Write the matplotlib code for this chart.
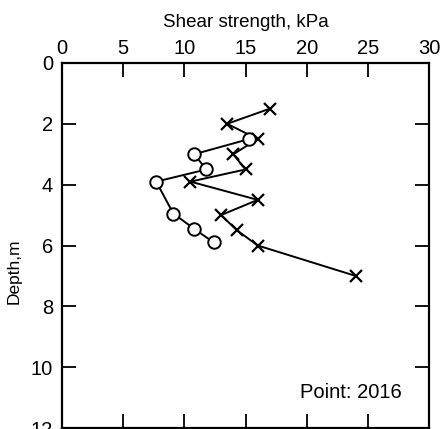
import matplotlib
matplotlib.use("Agg")
import matplotlib.pyplot as plt

# Cross series (shear strength kPa, depth m)
cross_strength = [17.0, 13.5, 16.0, 14.0, 15.0, 10.5, 16.0, 13.0, 14.3, 16.0, 24.0]
cross_depth    = [1.5, 2.0, 2.5, 3.0, 3.5, 3.9, 4.5, 5.0, 5.5, 6.0, 7.0]

# Circle series
circle_strength = [15.3, 10.8, 11.8, 7.7, 9.1, 10.8, 12.4]
circle_depth    = [2.5, 3.0, 3.5, 3.9, 4.95, 5.45, 5.9]

xticks = [0, 5, 10, 15, 20, 25, 30]
yticks = [0, 2, 4, 6, 8, 10, 12]

plt.rcParams['font.family'] = ['Liberation Sans', 'DejaVu Sans']

fig = plt.figure(figsize=(4.41, 4.29), dpi=100)
ax = fig.add_axes([62/441, 1 - 428/429, (429-62)/441, (428-63)/429])

ax.plot(cross_strength, cross_depth, color='black', lw=1.4, marker='x',
        markersize=9, markeredgewidth=1.6)
ax.plot(circle_strength, circle_depth, color='black', lw=1.4, marker='o',
        markersize=9, markerfacecolor='white', markeredgewidth=1.4)

ax.set_xlim(0, 30)
ax.set_ylim(12, 0)
ax.set_xticks(xticks)
ax.set_yticks(yticks)
ax.xaxis.tick_top()
ax.xaxis.set_label_position('top')
ax.tick_params(axis='x', which='both', direction='in', top=True, bottom=True,
               labeltop=True, labelbottom=False, length=10, width=1.3,
               labelsize=14.5, pad=3.5)
ax.tick_params(axis='y', which='both', direction='in', left=True, right=True,
               labelleft=True, labelright=False, length=10, width=1.3,
               labelsize=14.5, pad=6.5)
for s in ax.spines.values():
    s.set_linewidth(1.6)

ax.set_xlabel('Shear strength, kPa', fontsize=13.5, labelpad=9)
ax.set_ylabel('Depth,m', fontsize=12.5)
ax.yaxis.set_label_coords(-0.11, 0.43)

ax.text(0.926, 0.096, 'Point: 2016', transform=ax.transAxes, ha='right',
        va='center', fontsize=14.5)

fig.savefig('out.png', dpi=100)
